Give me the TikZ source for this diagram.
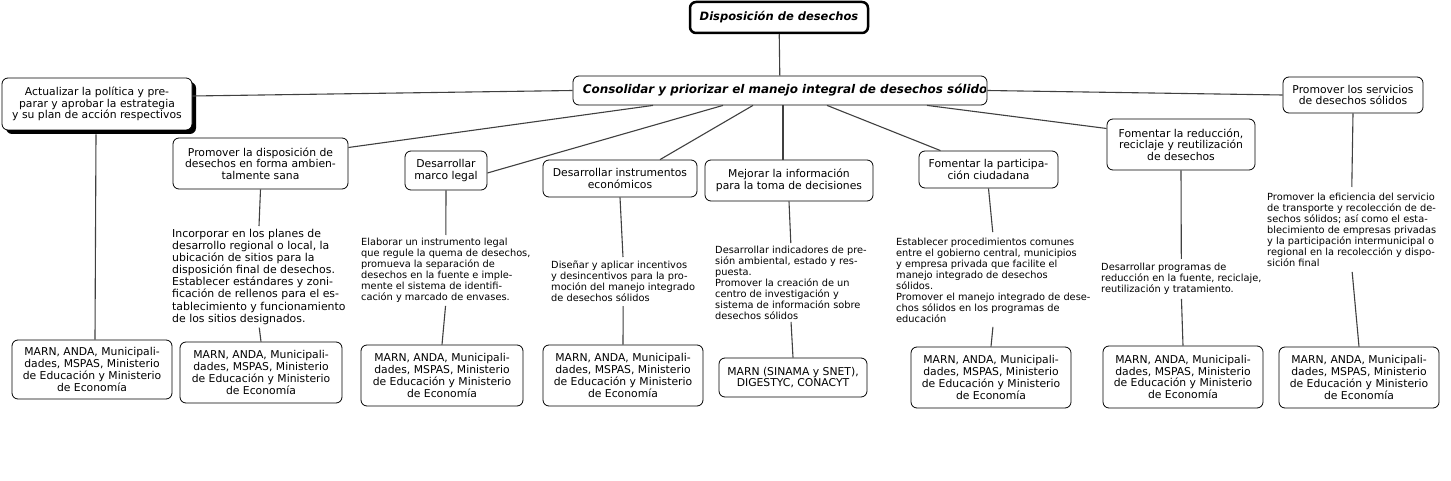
\documentclass[tikz,border=0pt]{standalone}
\usepackage{fontspec}
\setmainfont{DejaVu Sans}
\begin{document}
\begin{tikzpicture}[x=1pt,y=-1pt,
  conn/.style={draw=black!75, line width=1.1pt},
  box/.style={draw, line width=0.8pt, rounded corners=6pt, fill=white, align=center, inner sep=0pt, font=\fontsize{10.8}{11.7}\selectfont},
  bx/.style 2 args={box, minimum width=#1, minimum height=#2},
  desc/.style={align=left, inner sep=0pt, anchor=north west, font=\fontsize{9.8}{11}\selectfont},
  bi/.style={font=\fontsize{11.5}{13}\selectfont\bfseries\itshape}]
\useasboundingbox (0,0) rectangle (1451,481);
\fill[white] (0,0) rectangle (1451,481);

% level 0 and 1
\node[bx={178}{31}, line width=2.5pt, bi] (top) at (779,17.5) {Disposición de desechos};
\node[bx={414}{29}] (cons) at (780,90.5) {};
\begin{scope}
\clip ([xshift=1pt]cons.south west) rectangle ([xshift=-1.5pt]cons.north east);
\node[bi, font=\fontsize{11.95}{13}\selectfont\bfseries\itshape, anchor=west, inner sep=0pt] (constxt) at ([xshift=10pt]cons.west) {Consolidar y priorizar el manejo integral de desechos sólidos};
\end{scope}

% level 2
\node[bx={190}{52}, preaction={fill=black, transform canvas={xshift=4pt,yshift=-4pt}}] (act) at (97,104)
  {Actualizar la política y pre-\\parar y aprobar la estrategia\\y su plan de acción respectivos};
\node[bx={140}{36}] (serv) at (1353,95) {Promover los servicios\\de desechos sólidos};
\node[bx={175}{51}] (disp) at (260.5,163.5) {Promover la disposición de\\desechos en forma ambien-\\talmente sana};
\node[bx={82}{39}] (legal) at (446,170.5) {Desarrollar\\marco legal};
\node[bx={154}{37}] (inst) at (620,178.5) {Desarrollar instrumentos\\económicos};
\node[bx={168}{41}] (mejor) at (789,180.5) {Mejorar la información\\para la toma de decisiones};
\node[bx={139}{37}] (part) at (988.5,169.5) {Fomentar la participa-\\ción ciudadana};
\node[bx={148}{51}] (redu) at (1181,144.5) {Fomentar la reducción,\\reciclaje y reutilización\\de desechos};

% descriptions
\node[desc, font=\fontsize{10.9}{12.1}\selectfont] (d2) at (172,229) {Incorporar en los planes de\\desarrollo regional o local, la\\ubicación de sitios para la\\disposición final de desechos.\\Establecer estándares y zoni-\\ficación de rellenos para el es-\\tablecimiento y funcionamiento\\de los sitios designados.};
\node[desc] (d3) at (361,238) {Elaborar un instrumento legal\\que regule la quema de desechos,\\promueva la separación de\\desechos en la fuente e imple-\\mente el sistema de identifi-\\cación y marcado de envases.};
\node[desc] (d4) at (551,261) {Diseñar y aplicar incentivos\\y desincentivos para la pro-\\moción del manejo integrado\\de desechos sólidos};
\node[desc] (d5) at (715,246) {Desarrollar indicadores de pre-\\sión ambiental, estado y res-\\puesta.\\Promover la creación de un\\centro de investigación y\\sistema de información sobre\\desechos sólidos};
\node[desc] (d6) at (896,238) {Establecer procedimientos comunes\\entre el gobierno central, municipios\\y empresa privada que facilite el\\manejo integrado de desechos\\sólidos.\\Promover el manejo integrado de dese-\\chos sólidos en los programas de\\educación};
\node[desc] (d7) at (1101,263) {Desarrollar programas de\\reducción en la fuente, reciclaje,\\reutilización y tratamiento.};
\node[desc] (d8) at (1267,193) {Promover la eficiencia del servicio\\de transporte y recolección de de-\\sechos sólidos; así como el esta-\\blecimiento de empresas privadas\\y la participación intermunicipal o\\regional en la recolección y dispo-\\sición final};

% responsible bodies
\node[bx={160}{59}] (b1) at (92,369.5) {MARN, ANDA, Municipali-\\dades, MSPAS, Ministerio\\de Educación y Ministerio\\de Economía};
\node[bx={162}{61}] (b2) at (261,372.5) {MARN, ANDA, Municipali-\\dades, MSPAS, Ministerio\\de Educación y Ministerio\\de Economía};
\node[bx={162}{61}] (b3) at (442,375.5) {MARN, ANDA, Municipali-\\dades, MSPAS, Ministerio\\de Educación y Ministerio\\de Economía};
\node[bx={160}{61}] (b4) at (623,375.5) {MARN, ANDA, Municipali-\\dades, MSPAS, Ministerio\\de Educación y Ministerio\\de Economía};
\node[bx={148}{39}] (b5) at (793,377.5) {MARN (SINAMA y SNET),\\DIGESTYC, CONACYT};
\node[bx={160}{61}] (b6) at (991,377.5) {MARN, ANDA, Municipali-\\dades, MSPAS, Ministerio\\de Educación y Ministerio\\de Economía};
\node[bx={160}{62}] (b7) at (1183,377) {MARN, ANDA, Municipali-\\dades, MSPAS, Ministerio\\de Educación y Ministerio\\de Economía};
\node[bx={160}{61}] (b8) at (1359,377.5) {MARN, ANDA, Municipali-\\dades, MSPAS, Ministerio\\de Educación y Ministerio\\de Economía};

% connectors
\draw[conn] (top) -- (cons);
\draw[conn] (cons.west) -- ([yshift=8pt]act.east);
\draw[conn] (cons.east) -- (serv.west);
\draw[conn] ([xshift=-127pt]cons.south) -- ([yshift=16pt]disp.east);
\draw[conn] ([xshift=-57pt]cons.south) -- ([yshift=-2.5pt]legal.east);
\draw[conn] ([xshift=-27pt]cons.south) -- ([xshift=40pt]inst.north);
\draw[conn] ([xshift=3pt]cons.south) -- ([xshift=-6pt]mejor.north);
\draw[conn] ([xshift=47pt]cons.south) -- ([xshift=-48pt]part.north);
\draw[conn] ([xshift=147pt]cons.south) -- ([yshift=16pt]redu.west);

\draw[conn] ([xshift=-1pt,yshift=-4pt]act.south) -- ([xshift=3pt]b1.north);
\draw[conn, shorten >=3pt] (disp.south) -- (d2.north);
\draw[conn, shorten <=3pt] (d2.south) -- (b2.north);
\draw[conn, shorten >=3pt] (legal.south) -- (d3.north);
\draw[conn, shorten <=3pt] (d3.south) -- (b3.north);
\draw[conn, shorten >=4pt] (inst.south) -- (d4.north);
\draw[conn, shorten <=4pt] (d4.south) -- (b4.north);
\draw[conn, shorten >=3pt] (mejor.south) -- (d5.north);
\draw[conn, shorten <=2pt] (d5.south) -- (b5.north);
\draw[conn, shorten >=6pt] (part.south) -- (d6.north);
\draw[conn, shorten <=4pt] (d6.south) -- (b6.north);
\draw[conn, shorten >=4pt] (redu.south) -- (d7.north);
\draw[conn, shorten <=4pt] (d7.south) -- (b7.north);
\draw[conn, shorten >=6pt] (serv.south) -- (d8.north);
\draw[conn, shorten <=5pt] (d8.south) -- (b8.north);
\end{tikzpicture}
\end{document}
